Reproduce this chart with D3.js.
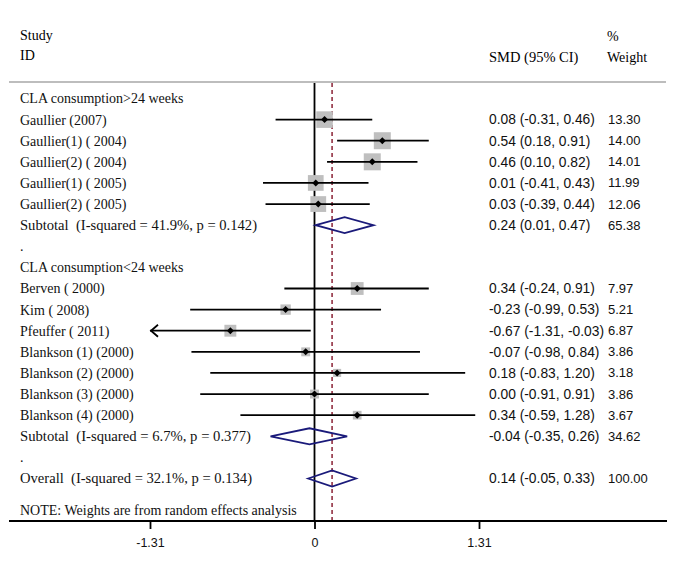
<!DOCTYPE html>
<html><head><meta charset="utf-8">
<script src="https://cdn.jsdelivr.net/npm/d3@7"></script>
<style>body{margin:0;background:#fff}</style>
</head><body>
<script>
// ---- data ----
const rowLabels = ["CLA consumption>24 weeks","Gaullier (2007)","Gaullier(1) ( 2004)","Gaullier(2) ( 2004)","Gaullier(1) ( 2005)","Gaullier(2) ( 2005)","Subtotal  (I-squared = 41.9%, p = 0.142)",".","CLA consumption<24 weeks","Berven ( 2000)","Kim ( 2008)","Pfeuffer ( 2011)","Blankson (1) (2000)","Blankson (2) (2000)","Blankson (3) (2000)","Blankson (4) (2000)","Subtotal  (I-squared = 6.7%, p = 0.377)",".","Overall  (I-squared = 32.1%, p = 0.134)"];
const rowTypes = ["group","study","study","study","study","study","pooled","blank","group","study","study","study","study","study","study","study","pooled","blank","pooled"];
const estimates = [null,0.08,0.54,0.46,0.01,0.03,0.24,null,null,0.34,-0.23,-0.67,-0.07,0.18,0.00,0.34,-0.04,null,0.14];
const lowers = [null,-0.31,0.18,0.10,-0.41,-0.39,0.01,null,null,-0.24,-0.99,-1.31,-0.98,-0.83,-0.91,-0.59,-0.35,null,-0.05];
const uppers = [null,0.46,0.91,0.82,0.43,0.44,0.47,null,null,0.91,0.53,-0.03,0.84,1.20,0.91,1.28,0.26,null,0.33];
const ciTexts = ["","0.08 (-0.31, 0.46)","0.54 (0.18, 0.91)","0.46 (0.10, 0.82)","0.01 (-0.41, 0.43)","0.03 (-0.39, 0.44)","0.24 (0.01, 0.47)","","","0.34 (-0.24, 0.91)","-0.23 (-0.99, 0.53)","-0.67 (-1.31, -0.03)","-0.07 (-0.98, 0.84)","0.18 (-0.83, 1.20)","0.00 (-0.91, 0.91)","0.34 (-0.59, 1.28)","-0.04 (-0.35, 0.26)","",  "0.14 (-0.05, 0.33)"];
const weights = [null,13.30,14.00,14.01,11.99,12.06,65.38,null,null,7.97,5.21,6.87,3.86,3.18,3.86,3.67,34.62,null,100.00];
const weightTexts = ["","13.30","14.00","14.01","11.99","12.06","65.38","","","7.97","5.21","6.87","3.86","3.18","3.86","3.67","34.62","","100.00"];
const arrowLeft = [false,false,false,false,false,false,false,false,false,false,false,true,false,false,false,false,false,false,false];
const tickValues = [-1.31, 0, 1.31];
const tickLabels = ["-1.31","0","1.31"];
const overallEstimate = 0.14;
const noteText = "NOTE: Weights are from random effects analysis";

// ---- layout ----
const W = 677, H = 566;
const serif = "'Liberation Serif','Times New Roman',serif";
const sans = "'Liberation Sans',Arial,sans-serif";
const svg = d3.select("body").append("svg").attr("width", W).attr("height", H);

const x = d3.scaleLinear().domain([-1.31, 1.31]).range([150, 479]);
const y = d3.scaleLinear().domain([0, 18]).range([98.5, 478.5]);
const axisY = 521, topY = 83;
const FS = 14;
const pooledLabelWidth = {6: 237, 16: 231, 18: 232};

// header
svg.append("text").attr("x",20).attr("y",35).attr("dy","0.35em").attr("font-family",serif).attr("font-size",FS).text("Study");
svg.append("text").attr("x",20).attr("y",55).attr("dy","0.35em").attr("font-family",serif).attr("font-size",FS).text("ID");
svg.append("text").attr("x",489).attr("y",57).attr("dy","0.35em").attr("font-family",serif).attr("font-size",14.5).text("SMD (95% CI)");
svg.append("text").attr("x",607).attr("y",36).attr("dy","0.35em").attr("font-family",serif).attr("font-size",FS).text("%");
svg.append("text").attr("x",607).attr("y",57).attr("dy","0.35em").attr("font-family",serif).attr("font-size",FS).text("Weight");
svg.append("line").attr("x1",9).attr("x2",666).attr("y1",82).attr("y2",82).attr("stroke","#bdbdbd").attr("stroke-width",2);

// reference lines
svg.append("line").attr("x1",x(0)).attr("x2",x(0)).attr("y1",topY).attr("y2",axisY).attr("stroke","#000").attr("stroke-width",1.8);
svg.append("line").attr("x1",x(overallEstimate)).attr("x2",x(overallEstimate)).attr("y1",topY).attr("y2",axisY)
  .attr("stroke","#8b2235").attr("stroke-width",1.5).attr("stroke-dasharray","4,3");

const idx = d3.range(rowLabels.length);

// labels
const lab = svg.append("g").selectAll("text").data(idx).join("text")
  .attr("x",20).attr("y",i=>y(i)).attr("dy","0.35em")
  .attr("font-family",serif).attr("font-size",FS).attr("fill","#111")
  .attr("xml:space","preserve")
  .text(i=>rowLabels[i]);
lab.filter(i=>rowTypes[i]==="pooled")
  .attr("textLength", i=>pooledLabelWidth[i]).attr("lengthAdjust","spacingAndGlyphs");
svg.append("g").selectAll("text").data(idx).join("text")
  .attr("x",489).attr("y",i=>y(i)).attr("dy","0.35em")
  .attr("font-family",sans).attr("font-size",13.8).attr("fill","#111")
  .text(i=>ciTexts[i]);
svg.append("g").selectAll("text").data(idx).join("text")
  .attr("x",608).attr("y",i=>y(i)).attr("dy","0.35em")
  .attr("font-family",sans).attr("font-size",13).attr("fill","#111")
  .text(i=>weightTexts[i]);
svg.append("text").attr("x",20).attr("y",y(19.5)).attr("dy","0.35em").attr("font-family",serif).attr("font-size",FS).attr("fill","#111").text(noteText);

const studyIdx = idx.filter(i=>rowTypes[i]==="study");
const pooledIdx = idx.filter(i=>rowTypes[i]==="pooled");

// boxes
svg.append("g").selectAll("rect").data(studyIdx).join("rect")
  .attr("x",i=>x(estimates[i]) - 2.27*Math.sqrt(weights[i]))
  .attr("y",i=>y(i) - 2.27*Math.sqrt(weights[i]))
  .attr("width",i=>4.54*Math.sqrt(weights[i]))
  .attr("height",i=>4.54*Math.sqrt(weights[i]))
  .attr("fill","#bfbfbf");

// CI lines
svg.append("g").selectAll("line").data(studyIdx).join("line")
  .attr("x1",i=>x(lowers[i])).attr("x2",i=>x(uppers[i]))
  .attr("y1",i=>y(i)).attr("y2",i=>y(i))
  .attr("stroke","#000").attr("stroke-width",1.8);

// arrows
svg.append("g").selectAll("path").data(studyIdx.filter(i=>arrowLeft[i])).join("path")
  .attr("d",i=>`M${x(lowers[i])+8},${y(i)-6} L${x(lowers[i])+1},${y(i)} L${x(lowers[i])+8},${y(i)+6}`)
  .attr("fill","none").attr("stroke","#000").attr("stroke-width",1.8);

// point markers
svg.append("g").selectAll("path").data(studyIdx).join("path")
  .attr("d",i=>{const cx=x(estimates[i]), cy=y(i); return `M${cx-3.5},${cy} L${cx},${cy-3.5} L${cx+3.5},${cy} L${cx},${cy+3.5}Z`;})
  .attr("fill","#000");

// pooled diamonds
svg.append("g").selectAll("path").data(pooledIdx).join("path")
  .attr("d",i=>{const cy=y(i); return `M${x(lowers[i])},${cy} L${x(estimates[i])},${cy-8} L${x(uppers[i])},${cy} L${x(estimates[i])},${cy+8}Z`;})
  .attr("fill","none").attr("stroke","#1a1a7a").attr("stroke-width",1.8);

// axis
svg.append("line").attr("x1",9).attr("x2",667).attr("y1",axisY).attr("y2",axisY).attr("stroke","#000").attr("stroke-width",1.8);
const axis = d3.axisBottom(x).tickValues(tickValues).tickFormat((d,i)=>tickLabels[i]).tickSize(8).tickPadding(10);
const ag = svg.append("g").attr("transform",`translate(0,${axisY})`).call(axis);
ag.select(".domain").remove();
ag.selectAll(".tick line").attr("stroke","#000").attr("stroke-width",1.8);
ag.selectAll(".tick text").attr("font-family",sans).attr("font-size",12.5).attr("fill","#111").attr("y",17);
</script>
</body></html>
